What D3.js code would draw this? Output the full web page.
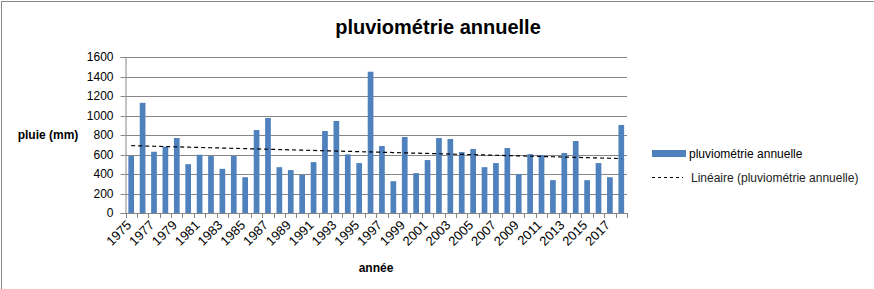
<!DOCTYPE html>
<html lang="fr">
<head>
    <meta charset="UTF-8">
    <title>pluviométrie annuelle</title>
    <script src="https://d3js.org/d3.v7.min.js"></script>
    <style>
        body { margin: 0; background: #fff; }
        svg { display: block; font-family: "Liberation Sans", Arial, sans-serif; }
        .tick text { font-size: 12px; fill: #000; }
        .axis-title { font-size: 12px; font-weight: bold; }
        .legend text { font-size: 12px; }
    </style>
</head>
<body>
    <svg id="chart"></svg>
    <script>
        // années et pluviométrie (mm)
        const years = d3.range(1975, 2019);
        const rain = [
            585, 1130, 628, 680, 769, 501, 597, 584, 453, 584,
            367, 851, 975, 470, 440, 391, 522, 841, 944, 601,
            512, 1449, 687, 326, 779, 409, 543, 769, 759, 625,
            656, 470, 512, 666, 398, 604, 594, 337, 615, 738,
            337, 512, 367, 903
        ];
        const yTicks = [0, 200, 400, 600, 800, 1000, 1200, 1400, 1600];
        const seriesName = "pluviométrie annuelle";
        const trendName = "Linéaire (pluviométrie annuelle)";

        const width = 874, height = 289;
        const margin = { left: 125.5, right: 247, top: 57, bottom: 76 };

        const svg = d3.select("#chart").attr("width", width).attr("height", height);

        // cadre du graphique (seuls les bords haut et gauche sont visibles)
        svg.append("rect")
            .attr("x", 1.5).attr("y", 1.5)
            .attr("width", width + 10).attr("height", height + 10)
            .attr("fill", "none").attr("stroke", "#888");

        const x = d3.scaleBand()
            .domain(years)
            .range([margin.left, width - margin.right])
            .paddingInner(0.5).paddingOuter(0.25);

        const y = d3.scaleLinear()
            .domain([0, 1600])
            .range([height - margin.bottom, margin.top]);

        // lignes de grille
        svg.append("g")
            .selectAll("line")
            .data(yTicks.slice(1))
            .join("line")
            .attr("x1", margin.left).attr("x2", width - margin.right)
            .attr("y1", d => Math.round(y(d)) + 0.5).attr("y2", d => Math.round(y(d)) + 0.5)
            .attr("stroke", "#868686");

        // axe Y
        const yAxis = svg.append("g")
            .attr("transform", `translate(${margin.left},0)`)
            .call(d3.axisLeft(y).tickValues(yTicks).tickFormat(d3.format("d")).tickSize(5).tickPadding(7));
        yAxis.selectAll("line, path").attr("stroke", "#868686");
        yAxis.selectAll(".tick").attr("transform", d => `translate(0,${Math.round(y(d)) + 0.5})`);

        // barres
        svg.append("g")
            .selectAll("rect")
            .data(years)
            .join("rect")
            .attr("x", (d) => x(d))
            .attr("y", (d, i) => y(rain[i]))
            .attr("width", x.bandwidth())
            .attr("height", (d, i) => y(0) - y(rain[i]))
            .attr("fill", "#4F81BD");

        // axe X : graduations entre les catégories
        const step = x.step();
        const x0 = margin.left;
        const xAxis = svg.append("g");
        xAxis.append("line")
            .attr("x1", x0).attr("x2", width - margin.right)
            .attr("y1", Math.round(y(0)) + 0.5).attr("y2", Math.round(y(0)) + 0.5)
            .attr("stroke", "#868686");
        xAxis.selectAll(".tk")
            .data(d3.range(years.length + 1))
            .join("line")
            .attr("class", "tk")
            .attr("x1", i => Math.round(x0 + i * step) + 0.5)
            .attr("x2", i => Math.round(x0 + i * step) + 0.5)
            .attr("y1", y(0)).attr("y2", y(0) + 5)
            .attr("stroke", "#868686");
        xAxis.selectAll("text")
            .data(years.filter((d, i) => i % 2 === 0))
            .join("text")
            .attr("text-anchor", "end")
            .attr("font-size", 13)
            .attr("transform", d => `translate(${x(d) + x.bandwidth() / 2 + 1},${y(0) + 13}) rotate(-45)`)
            .text(d => d);

        // tendance linéaire (moindres carrés)
        const idx = rain.map((d, i) => i + 1);
        const mx = d3.mean(idx), my = d3.mean(rain);
        const slope = d3.sum(idx, (d, i) => (d - mx) * (rain[i] - my)) / d3.sum(idx, d => (d - mx) ** 2);
        const icpt = my - slope * mx;
        const trend = years.map((d, i) => [x(d) + x.bandwidth() / 2, y(icpt + slope * (i + 1))]);
        svg.append("path")
            .attr("d", d3.line()(trend))
            .attr("fill", "none")
            .attr("stroke", "#000")
            .attr("stroke-width", 1.2)
            .attr("stroke-dasharray", "4,3");

        // titres
        svg.append("text")
            .attr("x", 438).attr("y", 34)
            .attr("text-anchor", "middle")
            .attr("font-size", 20).attr("font-weight", "bold")
            .text(seriesName);
        svg.append("text")
            .attr("class", "axis-title")
            .attr("x", 48).attr("y", 139)
            .attr("text-anchor", "middle")
            .text("pluie (mm)");
        svg.append("text")
            .attr("class", "axis-title")
            .attr("x", 376).attr("y", 272)
            .attr("text-anchor", "middle")
            .text("année");

        // légende
        const lg = svg.append("g").attr("class", "legend");
        lg.append("rect")
            .attr("x", 652).attr("y", 150).attr("width", 34).attr("height", 7)
            .attr("fill", "#4F81BD");
        lg.append("text").attr("x", 689).attr("y", 158).text(seriesName);
        lg.append("line")
            .attr("x1", 652).attr("x2", 683).attr("y1", 177.5).attr("y2", 177.5)
            .attr("stroke", "#000").attr("stroke-dasharray", "3,3");
        lg.append("text").attr("x", 691).attr("y", 182).attr("fill", "#222").text(trendName);
    </script>
</body>
</html>
